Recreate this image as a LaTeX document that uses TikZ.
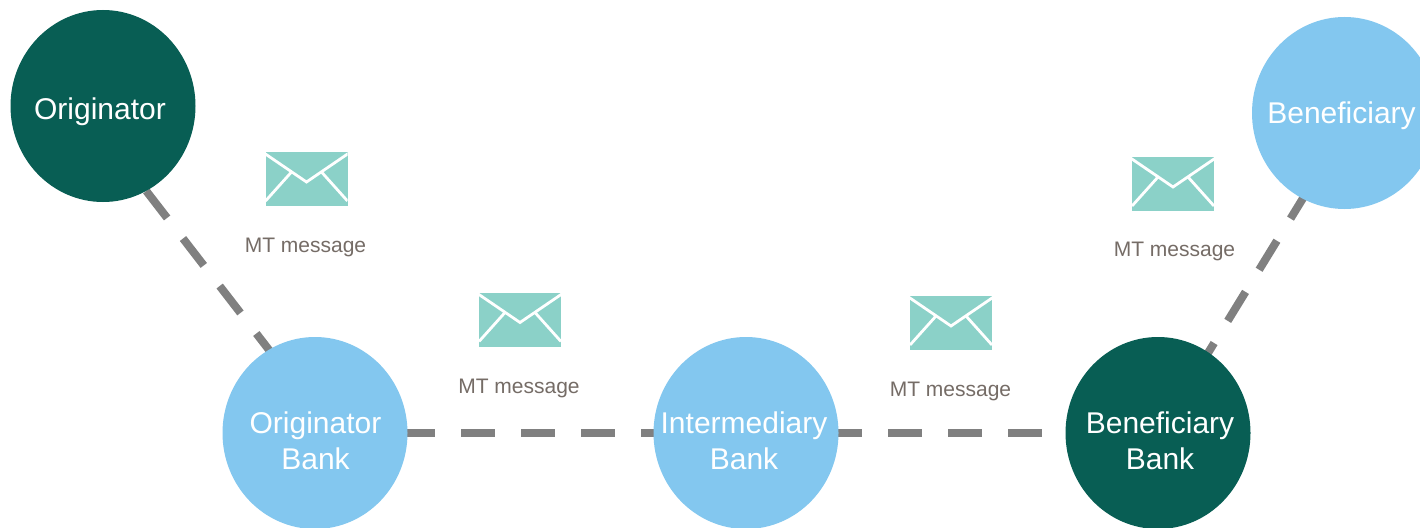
\documentclass[tikz,border=0pt]{standalone}
\usepackage{fontspec}
\setmainfont{Liberation Sans}
\usetikzlibrary{shapes.geometric,backgrounds}
\definecolor{dgreen}{RGB}{8,94,84}
\definecolor{lblue}{RGB}{131,199,239}
\definecolor{envcol}{RGB}{139,209,200}
\definecolor{msggray}{RGB}{117,108,102}
\definecolor{linegray}{RGB}{128,128,128}
\begin{document}
\begin{tikzpicture}[x=1pt,y=-1pt,
  party/.style={ellipse, minimum width=185pt, minimum height=192pt, inner sep=0pt, draw=none},
  darkparty/.style={party, fill=dgreen},
  lightparty/.style={party, fill=lblue},
  partytext/.style={text=white, align=center, font=\fontsize{30}{36}\selectfont, inner sep=0pt},
  link/.style={draw=linegray, line width=8pt, dash pattern=on 34pt off 26pt, shorten <=-6pt, shorten >=-6pt},
  msg/.style={text=msggray, font=\fontsize{21}{25}\selectfont, anchor=base, inner sep=0pt},
  envelope/.pic={
    \fill[envcol] (-41,-27) rectangle (41,27);
    \begin{scope}
      \clip (-41,-27) rectangle (41,27);
      \draw[white, line width=2.8pt] (-44,-27) -- (0,3) -- (44,-27);
      \draw[white, line width=2.8pt] (-41,22) -- (-15,-7);
      \draw[white, line width=2.8pt] (41,22) -- (15,-7);
    \end{scope}
  }
]
\useasboundingbox (0,0) rectangle (1420,527);

% parties
\node[darkparty]  (orig) at (103,106) {};
\node[lightparty] (ob)   at (315,433) {};
\node[lightparty] (ib)   at (746,433) {};
\node[darkparty]  (bb)   at (1158,433) {};
\node[lightparty] (ben)  at (1344.5,113) {};

\node[partytext, anchor=base] (origt) at (100,119) {Originator};
\node[partytext] (obt) at (315.5,441) {Originator\\Bank};
\node[partytext] (ibt) at (744,441) {Intermediary\\Bank};
\node[partytext] (bbt) at (1160,441) {Beneficiary\\Bank};
\node[partytext, anchor=base] (bent) at (1341.5,123) {Beneficiary};

% connectors
\begin{pgfonlayer}{background}
  \fill[white] (0,0) rectangle (1420,527);
  \draw[link, dash phase=54pt]  (orig.-63.4) -- (ob.119);
  \draw[link, dash phase=0.5pt] (ob.east) -- (ib.west);
  \draw[link, dash phase=4.5pt] (ib.east) -- (bb.west);
  \draw[link, dash phase=4.8pt] (ben.244.7) -- (bb.58.8);
\end{pgfonlayer}

% messages
\pic at (306.5,179) {envelope};
\pic at (520,319.5) {envelope};
\pic at (951,323) {envelope};
\pic at (1173,184) {envelope};

\node[msg] (m1) at (305.5,252) {MT message};
\node[msg] (m2) at (519,393) {MT message};
\node[msg] (m3) at (950.5,396) {MT message};
\node[msg] (m4) at (1174.5,256) {MT message};
\end{tikzpicture}
\end{document}
